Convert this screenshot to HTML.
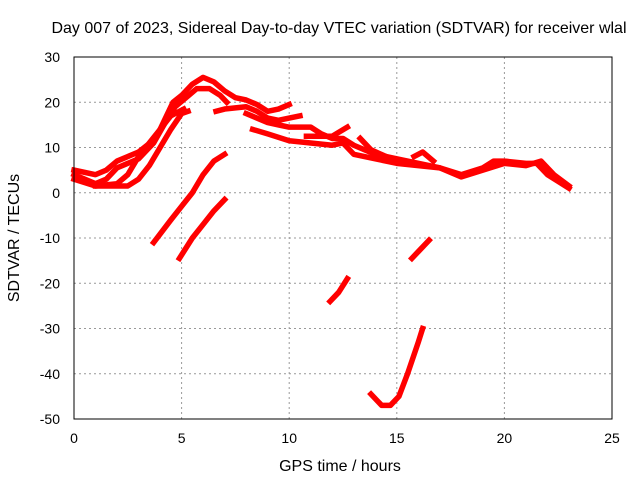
<!DOCTYPE html>
<html><head><meta charset="utf-8"><style>
body{margin:0;background:#fff}
svg text{font-family:"Liberation Sans",sans-serif;font-size:14px;fill:#000}
svg text.big{font-size:16px}
</style></head><body>
<svg id="chart" width="640" height="480" viewBox="0 0 640 480" xmlns="http://www.w3.org/2000/svg">
<rect width="640" height="480" fill="#fff"/>
<text class="big" x="339" y="33" text-anchor="middle">Day 007 of 2023, Sidereal Day-to-day VTEC variation (SDTVAR) for receiver wlal</text>
<text class="big" x="340" y="471" text-anchor="middle">GPS time / hours</text>
<text class="big" transform="translate(19,238) rotate(-90)" text-anchor="middle">SDTVAR / TECUs</text>
<g id="grid"></g><g id="ticks"></g><g id="series"></g>
<rect x="74" y="57" width="538" height="362" fill="none" stroke="#000" stroke-width="1"/>
</svg>
<script>
const xTicks=[0,5,10,15,20,25];
const yTicks=[30,20,10,0,-10,-20,-30,-40,-50];
const seriesA=[[0,5],[1,4],[1.5,5],[2,7],[3,9],[3.8,12],[4.3,17],[4.6,20],[5,21.5],[5.5,24],[6,25.5],[6.5,24.5],[7,22.5],[7.5,21],[8,20.5],[8.5,19.5],[9,18],[9.5,18.5],[10,19.5]];
const seriesB=[[0,4],[1,2],[1.5,3],[2,5.5],[3,7.5],[3.7,11],[4.3,16],[4.7,19],[5.2,21],[5.7,23],[6.3,23],[6.8,21.5],[7.1,20]];
const seriesB2=[[6.6,18],[7,18.5],[8,19],[8.5,18],[9,16.5],[9.5,16],[10,16.5],[10.5,17]];
const seriesC=[[0,3],[1,1.5],[2,2],[2.5,4],[3,8],[3.5,11],[4,14],[4.5,17],[5.1,18.5]];
const seriesD=[[1,1.5],[2.5,1.5],[3,3],[3.5,6],[4,10],[4.5,14],[5,17.5],[5.3,18]];
const seriesE=[[8,17.5],[8.5,16.5],[9,15.5],[9.5,15],[10,14.5],[11,14.5],[11.5,13],[12,12],[12.5,12],[13,10.5],[14,8.5],[15,7.5],[16,6.5],[17,5.5],[18,4],[19,5.5],[19.5,7],[20,7],[21,6.5],[21.5,6.5],[22,4],[22.5,2.5],[23,1]];
const seriesF=[[8.3,14],[9,13],[10,11.5],[11,11],[12,10.5],[12.5,11],[13,8.5],[14,7.5],[15,6.5],[16,6],[17,5.5],[18,3.5],[19,5],[20,6.5],[21,6],[21.7,7],[22.3,4],[23,1.5]];
const seriesG=[[10.8,12.5],[12,12.5],[12.7,14.5]];
const seriesH=[[13.3,12],[13.8,9.5],[14.5,8],[15,7]];
const seriesI=[[15.8,8],[16.2,9],[16.7,7]];
const seriesL1=[[3.7,-11],[4.5,-6],[5,-3],[5.5,0],[6,4],[6.5,7],[7,8.5]];
const seriesL2=[[4.9,-14.5],[5.5,-10],[6,-7],[6.5,-4],[7,-1.5]];
const seriesL3=[[11.9,-24],[12.3,-22],[12.7,-19]];
const seriesL4=[[13.8,-44.5],[14.3,-47],[14.7,-47],[15.1,-45],[15.5,-40],[16,-33],[16.2,-30]];
const seriesL5=[[15.7,-14.5],[16,-13],[16.5,-10.5]];
const allSeries=[seriesA,seriesB,seriesB2,seriesC,seriesD,seriesE,seriesF,seriesG,seriesH,seriesI,seriesL1,seriesL2,seriesL3,seriesL4,seriesL5];
const NS="http://www.w3.org/2000/svg";
const X0=74,X1=612,Y0=419,Y1=57;
function sx(v){return X0+(v-0)/25*(X1-X0);}
function sy(v){return Y0-(v+50)/80*(Y0-Y1);}
const grid=document.getElementById('grid'),ticks=document.getElementById('ticks'),ser=document.getElementById('series');
function mk(t,a,p){const e=document.createElementNS(NS,t);for(const k in a)e.setAttribute(k,a[k]);p.appendChild(e);return e;}
xTicks.forEach(v=>{
 const x=sx(v);
 if(v>0&&v<25){const g=mk('line',{x1:x,x2:x,y1:Y1,y2:Y0,stroke:'#999','stroke-dasharray':'2,3'},grid);
 
 }
 const t=mk('text',{x:x,y:Y0+24,'text-anchor':'middle'},ticks);t.textContent=v;
 
 
});
yTicks.forEach(v=>{
 const y=sy(v);
 if(v>-50&&v<30){const g=mk('line',{x1:X0,x2:X1,y1:y,y2:y,stroke:'#999','stroke-dasharray':'2,3'},grid);
 
 }
 const t=mk('text',{x:X0-14,y:y+5,'text-anchor':'end'},ticks);t.textContent=v;
 
 
});
allSeries.forEach((s,i)=>{
 const p=mk('polyline',{points:s.map(d=>sx(d[0])+','+sy(d[1])).join(' '),fill:'none',stroke:'#ff0000','stroke-width':5.5,'stroke-linejoin':'round','stroke-linecap':'square'},ser);
 
 
});
</script>
</body></html>
